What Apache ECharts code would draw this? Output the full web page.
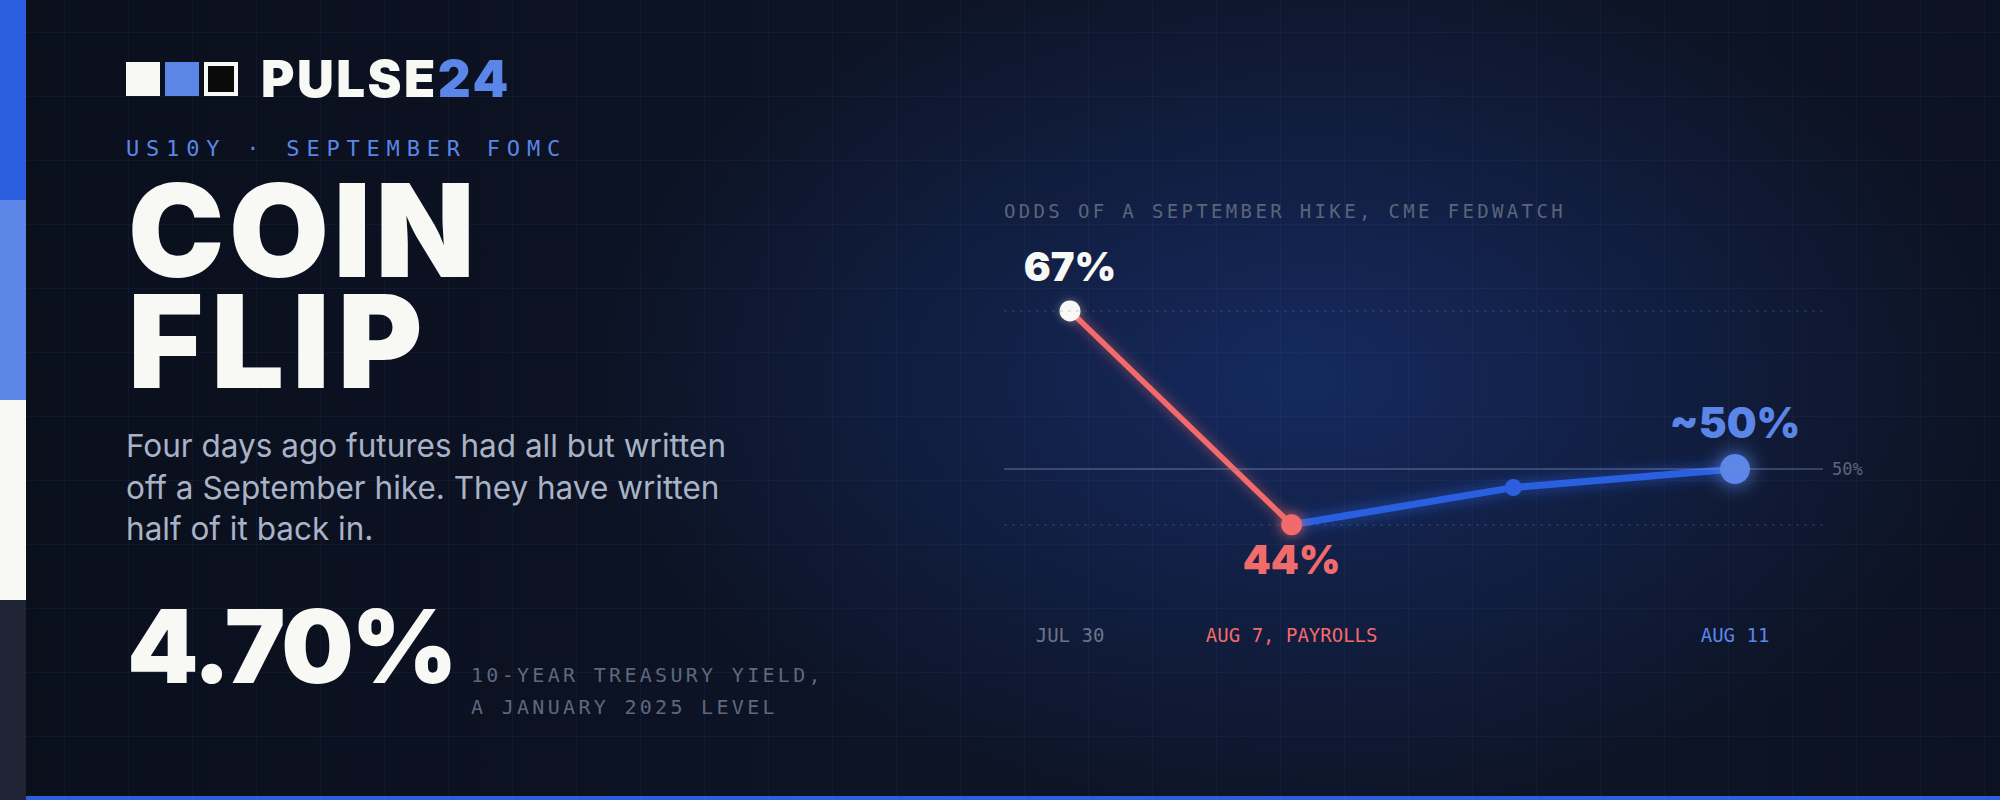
<!DOCTYPE html>
<html>
<head>
<meta charset="utf-8">
<script src="https://cdn.jsdelivr.net/npm/echarts@6/dist/echarts.min.js"></script>
<style>
  html, body { margin: 0; padding: 0; }
  body {
    width: 2000px; height: 800px; overflow: hidden; position: relative;
    background-color: #0b1120;
    background-image:
      linear-gradient(rgba(90,120,190,0.07) 1px, transparent 1px),
      linear-gradient(90deg, rgba(90,120,190,0.07) 1px, transparent 1px),
      radial-gradient(ellipse 720px 430px at 1300px 380px, rgba(28,58,140,0.55), rgba(28,58,140,0) 100%),
      linear-gradient(90deg, #0a0f1c 0%, #0d1426 45%, #0e1528 70%, #0c1221 100%);
    background-size: 64px 64px, 64px 64px, 100% 100%, 100% 100%;
    background-position: 0 32px, 0 0, 0 0, 0 0;
  }
  .abs { position: absolute; white-space: nowrap; }
  .stripe { position: absolute; left: 0; width: 26px; height: 200px; }
  .mono { font-family: "DejaVu Sans Mono", "Liberation Mono", monospace; }
  .heavy { font-family: "Inter", "Roboto", sans-serif; font-weight: 900; }
  #chart { position: absolute; left: 0; top: 0; width: 2000px; height: 800px; }
</style>
</head>
<body>
<div class="stripe" style="top:0;background:#2b5fe0"></div>
<div class="stripe" style="top:200px;background:#5b86e8"></div>
<div class="stripe" style="top:400px;background:#f8f8f4"></div>
<div class="stripe" style="top:600px;background:#1f2535"></div>
<div class="abs" style="left:26px;top:796px;width:1974px;height:4px;background:#2b5fe0"></div>

<div id="chart"></div>

<div class="abs" style="left:126px;top:62px;width:34px;height:34px;background:#f8f8f4"></div>
<div class="abs" style="left:165px;top:62px;width:34px;height:34px;background:#5b86e8"></div>
<div class="abs" style="left:204px;top:62px;width:34px;height:34px;background:#0a0a0a;border:4px solid #f8f8f4;box-sizing:border-box"></div>
<div class="abs heavy" style="left:261px;top:53px;font-size:51px;line-height:51px;color:#f8f8f4;letter-spacing:2.5px">PULSE<span style="color:#5b86e8">24</span></div>

<div class="abs mono" style="left:126px;top:138px;font-size:22px;line-height:22px;letter-spacing:6.8px;color:#5b86e8">US10Y · SEPTEMBER FOMC</div>

<div class="abs heavy" style="left:128px;top:175px;font-size:129px;line-height:111px;color:#f8f8f4;letter-spacing:4.5px">COIN</div>
<div class="abs heavy" style="left:128px;top:286px;font-size:129px;line-height:111px;color:#f8f8f4;letter-spacing:8px">FLIP</div>

<div class="abs" style="left:126px;top:425px;font-family:Inter,'Noto Sans',sans-serif;font-size:31.5px;line-height:41.5px;color:#a9b3c7">Four days ago futures had all but written<br>off a September hike. They have written<br>half of it back in.</div>

<div class="abs heavy" style="left:127px;top:595px;font-size:102px;line-height:102px;color:#f8f8f4;letter-spacing:-2.5px">4.70%</div>

<div class="abs mono" style="left:471px;top:659px;font-size:20px;line-height:32px;letter-spacing:3.3px;color:#5d6880">10-YEAR TREASURY YIELD,<br>A JANUARY 2025 LEVEL</div>

<div class="abs mono" style="left:1004px;top:202px;font-size:19px;line-height:19px;letter-spacing:3.35px;color:#5b6579">ODDS OF A SEPTEMBER HIKE, CME FEDWATCH</div>

<script>
// ---- data ----
const categories = ['JUL 30', 'AUG 7, PAYROLLS', '', 'AUG 11'];
const hikeOdds = [67, 44, 48, 50];          // % odds of a September hike
const oddsLabels = ['67%', '44%', '', '~50%'];
const referenceLevel = 50;                  // coin-flip line
const selloffIdx = [0, 1];                  // drop into payrolls
const reboundIdx = [1, 2, 3];               // rebound after payrolls

// ---- styles ----
const RED = '#f26b6b', BLUE = '#2b5fe0', LBLUE = '#5b86e8', WHITE = '#f8f8f4';
const GREY = '#5b6579';
const labelColors = ['#6b7489', RED, GREY, LBLUE];
const bigLabel = { fontFamily: 'Inter, Roboto, sans-serif', fontWeight: 900, fontSize: 40, lineHeight: 40 };

const redStyles = {
  0: { symbolSize: 21, itemStyle: { color: WHITE, shadowBlur: 8, shadowColor: 'rgba(255,255,255,0.35)' },
       label: Object.assign({ show: true, position: 'top', distance: 14, color: WHITE }, bigLabel) },
  1: { symbolSize: 21, itemStyle: { color: RED, shadowBlur: 14, shadowColor: 'rgba(242,107,107,0.8)' },
       label: Object.assign({ show: true, position: 'bottom', distance: 4, color: RED }, bigLabel) }
};
const blueStyles = {
  1: { symbol: 'none' },
  2: { symbolSize: 17, itemStyle: { color: BLUE } },
  3: { symbolSize: 30, itemStyle: { color: LBLUE, shadowBlur: 20, shadowColor: 'rgba(91,134,232,0.95)' },
       label: Object.assign({ show: true, position: 'top', distance: 12, color: LBLUE }, bigLabel, { fontSize: 42 }) }
};

function buildLeg(indices, styles) {
  return hikeOdds.map((v, i) => indices.includes(i)
    ? Object.assign({ value: v }, styles[i] || {})
    : '-');
}

const yMin = 40, yMax = 70;
const gridTop = 283, gridHeight = 279;

const chart = echarts.init(document.getElementById('chart'), null, { renderer: 'svg' });
chart.setOption({
  animation: false,
  backgroundColor: 'transparent',
  grid: [
    { left: 1004, width: 819, top: gridTop, height: gridHeight },
    { left: 1070, width: 665, top: gridTop, height: gridHeight }
  ],
  xAxis: [
    { gridIndex: 0, type: 'value', min: 0, max: 1, show: false },
    { gridIndex: 1, type: 'category', data: categories, boundaryGap: false,
      axisLine: { show: false }, axisTick: { show: false }, splitLine: { show: false },
      axisLabel: { margin: 63, fontFamily: 'DejaVu Sans Mono, monospace', fontSize: 19,
        color: (v, i) => labelColors[i], interval: 0 } }
  ],
  yAxis: [
    { gridIndex: 0, type: 'value', min: yMin, max: yMax, show: false },
    { gridIndex: 1, type: 'value', min: yMin, max: yMax, show: false }
  ],
  series: [
    {
      type: 'line', xAxisIndex: 0, yAxisIndex: 0, data: [], silent: true,
      markLine: {
        silent: true, symbol: 'none',
        data: [
          { yAxis: referenceLevel,
            lineStyle: { color: 'rgba(120,140,185,0.38)', width: 2, type: 'solid' },
            label: { show: true, position: 'end', distance: 9, formatter: referenceLevel + '%',
                     color: GREY, fontFamily: 'DejaVu Sans Mono, monospace', fontSize: 17 } },
          { yAxis: Math.max(...hikeOdds),
            lineStyle: { color: 'rgba(110,130,170,0.25)', width: 1.5, type: [3, 5] },
            label: { show: false } },
          { yAxis: Math.min(...hikeOdds),
            lineStyle: { color: 'rgba(110,130,170,0.25)', width: 1.5, type: [3, 5] },
            label: { show: false } }
        ]
      }
    },
    {
      name: 'rebound', type: 'line', xAxisIndex: 1, yAxisIndex: 1, z: 3,
      data: buildLeg(reboundIdx, blueStyles),
      symbol: 'circle', showSymbol: true, connectNulls: false,
      lineStyle: { color: BLUE, width: 7, shadowBlur: 14, shadowColor: 'rgba(43,95,224,0.75)' },
      itemStyle: { color: BLUE },
      label: { formatter: p => oddsLabels[p.dataIndex] }
    },
    {
      name: 'selloff', type: 'line', xAxisIndex: 1, yAxisIndex: 1, z: 4,
      data: buildLeg(selloffIdx, redStyles),
      symbol: 'circle', showSymbol: true,
      lineStyle: { color: RED, width: 5.5, shadowBlur: 12, shadowColor: 'rgba(242,107,107,0.6)' },
      itemStyle: { color: RED },
      label: { formatter: p => oddsLabels[p.dataIndex] }
    }
  ]
});
</script>
</body>
</html>
